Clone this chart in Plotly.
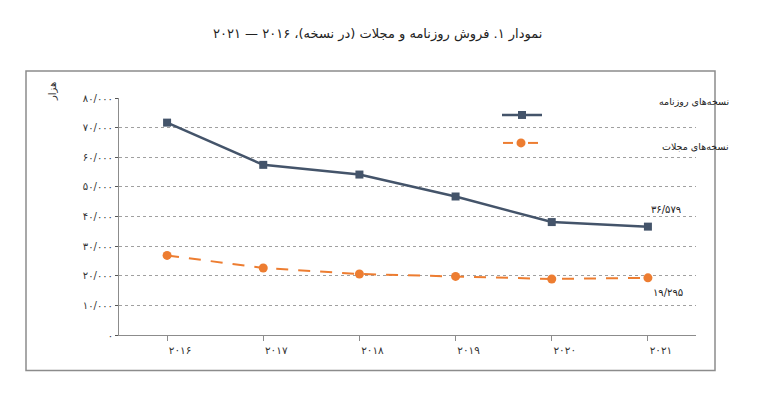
import plotly.graph_objects as go

# data
years = ["2016", "2017", "2018", "2019", "2020", "2021"]
year_labels = ["۲۰۱۶", "۲۰۱۷", "۲۰۱۸", "۲۰۱۹", "۲۰۲۰", "۲۰۲۱"]
newspapers = [71690, 57430, 54160, 46750, 38120, 36579]
magazines = [26860, 22620, 20590, 19780, 18910, 19295]
y_ticks = [0, 10000, 20000, 30000, 40000, 50000, 60000, 70000, 80000]

title = "نمودار ۱. فروش روزنامه و مجلات (در نسخه)، ۲۰۱۶ — ۲۰۲۱"
name_news = "نسخه‌های روزنامه"
name_mag = "نسخه‌های مجلات"
y_title = "هزار"

NAVY = "#44546A"
ORANGE = "#ED7D31"
FONT = "DejaVu Sans"

FA = str.maketrans("0123456789", "۰۱۲۳۴۵۶۷۸۹")


def fa_num(v):
    return f"{v:,}".replace(",", "/").translate(FA)


fig = go.Figure()
fig.add_trace(go.Scatter(
    x=years, y=newspapers, mode="lines+markers", name=name_news,
    line=dict(color=NAVY, width=2.5),
    marker=dict(symbol="square", size=8, color=NAVY),
))
fig.add_trace(go.Scatter(
    x=years, y=magazines, mode="lines+markers", name=name_mag,
    line=dict(color=ORANGE, width=2, dash="12px,10px"),
    marker=dict(symbol="circle", size=9, color=ORANGE),
))

# plot area in page pixels; page body adds an 8px offset
L, R, T, B = 119, 696, 98, 335.4
OFF = 8
# arabic text boxes come out a bit low, nudge them back up
ARAB_SHIFT = 8


def px(x):
    return (x - L) / (R - L)


def py(y):
    return (B - y) / (B - T)


shapes = [
    # outer frame
    dict(type="rect", xref="paper", yref="paper",
         x0=px(26), x1=px(715), y0=py(371), y1=py(71),
         line=dict(color="#8c8c8c", width=1.5), layer="below"),
    # legend samples
    dict(type="line", xref="paper", yref="paper",
         x0=px(502), x1=px(542), y0=py(115), y1=py(115),
         line=dict(color=NAVY, width=2.5)),
    dict(type="rect", xref="paper", yref="paper",
         x0=px(518), x1=px(526), y0=py(119), y1=py(111),
         fillcolor=NAVY, line=dict(width=0)),
    dict(type="line", xref="paper", yref="paper",
         x0=px(503), x1=px(513), y0=py(143), y1=py(143),
         line=dict(color=ORANGE, width=2)),
    dict(type="line", xref="paper", yref="paper",
         x0=px(528), x1=px(538), y0=py(143), y1=py(143),
         line=dict(color=ORANGE, width=2)),
    dict(type="circle", xref="paper", yref="paper",
         x0=px(516.5), x1=px(525.5), y0=py(147.5), y1=py(138.5),
         fillcolor=ORANGE, line=dict(width=0)),
]

last = len(years) - 1
annotations = [
    dict(text=title, xref="paper", yref="paper", x=px(377), y=py(32),
         yshift=ARAB_SHIFT, showarrow=False, font=dict(size=13, color="#222")),
    dict(text=y_title, xref="paper", yref="paper", x=px(52), y=py(88),
         xshift=-7, yshift=ARAB_SHIFT, showarrow=False, textangle=-90,
         font=dict(size=10, color="#333")),
    dict(text=name_news, xref="paper", yref="paper", x=px(731), y=py(102),
         yshift=ARAB_SHIFT, xanchor="right", showarrow=False,
         font=dict(size=9.5, color="#222")),
    dict(text=name_mag, xref="paper", yref="paper", x=px(731), y=py(147),
         yshift=ARAB_SHIFT, xanchor="right", showarrow=False,
         font=dict(size=9.5, color="#222")),
    dict(text=fa_num(newspapers[-1]), x=last, y=newspapers[-1],
         xshift=18, yshift=17, showarrow=False, font=dict(size=10, color="#222")),
    dict(text=fa_num(magazines[-1]), x=last, y=magazines[-1],
         xshift=20, yshift=-15, showarrow=False, font=dict(size=10, color="#222")),
]

fig.update_layout(
    width=763, height=406,
    margin=dict(l=L - OFF, r=763 - R + OFF, t=T - OFF, b=406 - B + OFF),
    paper_bgcolor="white", plot_bgcolor="white",
    font=dict(family=FONT, size=10, color="#333"),
    showlegend=False,
    shapes=shapes, annotations=annotations,
)
fig.update_xaxes(
    type="category", range=[-0.5, 5.5],
    tickvals=years, ticktext=year_labels,
    showgrid=False, showline=True, linecolor="#8c8c8c", linewidth=1,
    ticks="outside", ticklen=5, tickcolor="#8c8c8c",
    ticklabelshift=13, tickfont=dict(size=10.5, color="#333"),
)
fig.update_yaxes(
    range=[0, 80000], tickvals=y_ticks, ticktext=[fa_num(v) for v in y_ticks],
    showline=True, linecolor="#8c8c8c", linewidth=1,
    ticks="outside", ticklen=3, tickcolor="#555",
    showgrid=True, gridcolor="#a0a0a0", gridwidth=1, griddash="dot",
    zeroline=False, tickfont=dict(size=10, color="#333"),
)

fig.write_html("out.html")
